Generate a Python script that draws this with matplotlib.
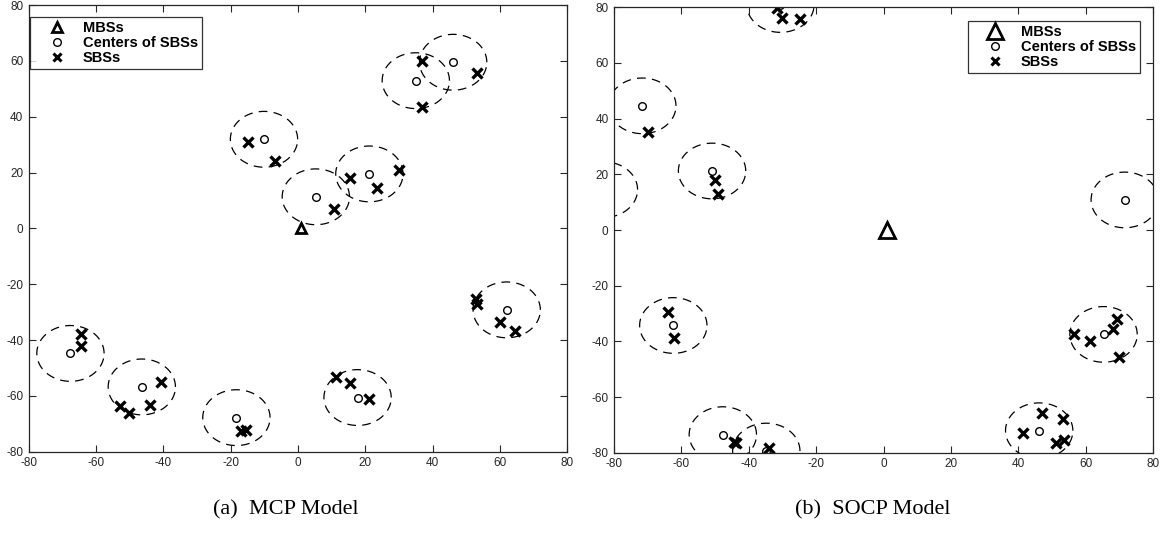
import numpy as np
import matplotlib
matplotlib.use('Agg')
import matplotlib.pyplot as plt
from matplotlib.lines import Line2D

plt.rcParams['axes.unicode_minus'] = False

# MBS location (both models)
mbs_x = [1]
mbs_y = [0]

# SBS cluster radius
radius = 10

# (a) MCP model
mcp_center_x = [5.3, -10.1, 21.2, 35.0, 46.1, 62.0, -67.6, -46.4, -18.3, 17.7]
mcp_center_y = [11.3, 31.9, 19.5, 52.9, 59.5, -29.2, -44.8, -56.8, -67.8, -60.6]
mcp_sbs_x = [10.8, -14.8, -6.9, 15.4, 23.5, 30.0, 36.8, 36.8, 53.2,
             52.8, 53.2, 60.0, 64.4, -64.5, -64.5, -40.8, -44.0, -52.8, -50.1,
             -17.0, -15.3, 11.3, 15.4, 21.2]
mcp_sbs_y = [6.9, 30.8, 24.2, 17.9, 14.6, 20.9, 60.1, 43.3, 55.8,
             -25.4, -27.2, -33.7, -36.7, -37.7, -42.1, -54.9, -63.3, -63.8, -66.0,
             -72.5, -72.2, -53.4, -55.5, -61.0]

# (b) SOCP model
socp_center_x = [-71.6, -83.0, -50.9, -30.6, 71.6, -62.4, -47.7, -34.8, 46.2, 65.3]
socp_center_y = [44.6, 14.5, 21.2, 81.0, 10.8, -34.3, -73.5, -79.4, -72.1, -37.5]
socp_sbs_x = [-70.0, -50.1, -49.0, -31.6, -30.0, -24.8, -64.0, -62.1, -43.9, -44.3,
              -34.1, 41.4, 47.1, 53.2, 51.1, 53.6, 56.5, 61.2, 68.0, 69.2, 69.9]
socp_sbs_y = [35.1, 17.9, 12.8, 79.6, 76.0, 75.7, -29.5, -38.7, -76.5, -76.0,
              -78.3, -73.1, -65.6, -68.0, -76.4, -75.6, -37.2, -39.9, -35.4, -31.9, -45.8]

captions = ['(a)  MCP Model', '(b)  SOCP Model']
legend_labels = ['MBSs', 'Centers of SBSs', 'SBSs']
ticks = [-80, -60, -40, -20, 0, 20, 40, 60, 80]

fig = plt.figure(figsize=(11.64, 5.4), dpi=100)
ax1 = fig.add_axes([0.02466, 0.16352, 0.4627, 0.8272])
ax2 = fig.add_axes([0.5275, 0.16167, 0.4631, 0.8248])

theta = np.linspace(0, 2 * np.pi, 200)
dash = (0, (7, 5))


def draw_panel(ax, cx, cy, sx, sy, tri_size, leg_loc, leg_anchor):
    for x0, y0 in zip(cx, cy):
        ax.plot(x0 + radius * np.cos(theta), y0 + radius * np.sin(theta),
                color='black', lw=0.9, linestyle=dash)
    ax.plot(mbs_x, mbs_y, linestyle='none', marker='^', markersize=tri_size,
            markerfacecolor='none', markeredgecolor='black', markeredgewidth=2)
    ax.plot(cx, cy, linestyle='none', marker='o', markersize=5.5,
            markerfacecolor='none', markeredgecolor='black', markeredgewidth=1)
    ax.plot(sx, sy, linestyle='none', marker='x', markersize=7,
            markeredgecolor='black', markeredgewidth=2.4)
    ax.set_xlim(-80, 80)
    ax.set_ylim(-80, 80)
    ax.set_xticks(ticks)
    ax.set_yticks(ticks)
    ax.tick_params(direction='in', length=5, width=0.8, top=True, right=True,
                   labelsize=8.5, colors='#262626', labelcolor='#262626', pad=4)
    for s in ax.spines.values():
        s.set_color('#262626')
        s.set_linewidth(0.9)
    handles = [
        Line2D([], [], linestyle='none', marker='^', markersize=tri_size,
               markerfacecolor='none', markeredgecolor='black', markeredgewidth=2),
        Line2D([], [], linestyle='none', marker='o', markersize=5.5,
               markerfacecolor='none', markeredgecolor='black', markeredgewidth=1),
        Line2D([], [], linestyle='none', marker='x', markersize=6,
               markeredgecolor='black', markeredgewidth=2.2),
    ]
    leg = ax.legend(handles, legend_labels, loc=leg_loc, bbox_to_anchor=leg_anchor,
                    prop={'family': 'Liberation Sans', 'weight': 'bold', 'size': 10.5},
                    frameon=True, fancybox=False, borderpad=0.3,
                    labelspacing=0.05, handletextpad=0.23, handlelength=3.1,
                    borderaxespad=0)
    leg.get_frame().set_edgecolor('black')
    leg.get_frame().set_linewidth(0.9)
    for tl in ax.get_xticklabels() + ax.get_yticklabels():
        tl.set_family('Liberation Sans')


draw_panel(ax1, mcp_center_x, mcp_center_y, mcp_sbs_x, mcp_sbs_y, 7,
           'upper left', (0.0024, 0.973))
draw_panel(ax2, socp_center_x, socp_center_y, socp_sbs_x, socp_sbs_y, 11,
           'upper right', (0.976, 0.969))

fig.text(286 / 1164, 1 - 510 / 540, captions[0], ha='center', va='center',
         family='Liberation Serif', fontsize=16)
fig.text(873 / 1164, 1 - 510 / 540, captions[1], ha='center', va='center',
         family='Liberation Serif', fontsize=16)

fig.savefig('out.png', dpi=100)
